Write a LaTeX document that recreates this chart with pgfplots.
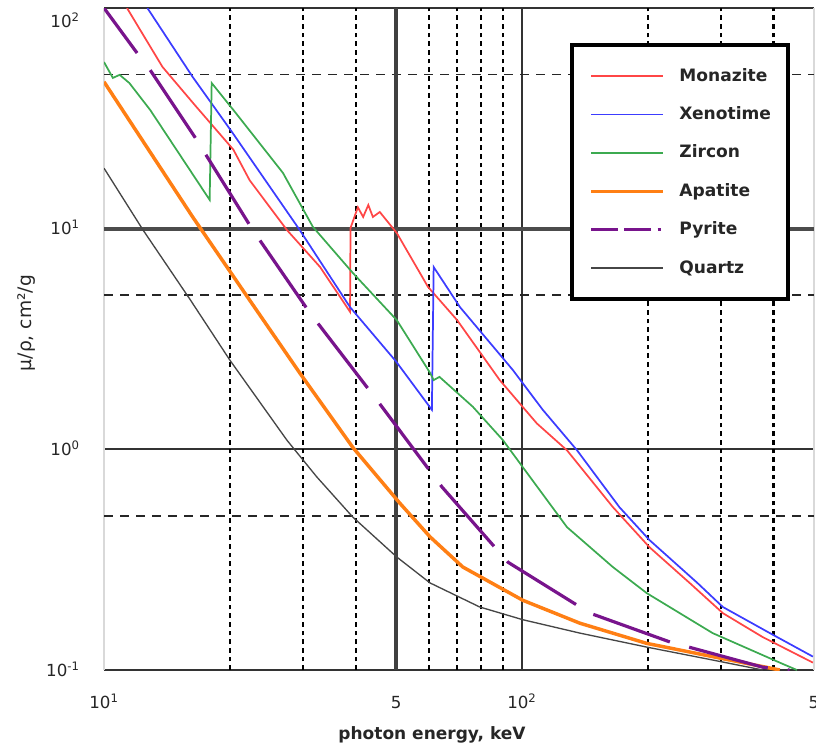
\documentclass[border=0pt]{standalone}
\usepackage{fontspec}
\setmainfont{DejaVu Sans}
\usepackage{pgfplots}
\pgfplotsset{compat=1.18}
\definecolor{monaz}{RGB}{255,70,70}
\definecolor{xeno}{RGB}{60,60,255}
\definecolor{zirc}{RGB}{60,170,80}
\definecolor{apat}{RGB}{255,127,20}
\definecolor{pyr}{RGB}{120,20,140}
\definecolor{quar}{RGB}{70,70,70}
\pgfplotsset{pyritelegend/.style={legend image code/.code={\draw[##1, dash pattern=on 20pt off 5pt on 20pt off 5pt on 2.5pt off 5pt, dash phase=0pt] (0pt,0pt) -- (54pt,0pt);}}}
\begin{document}
\begin{tikzpicture}
\begin{axis}[
  at={(0,0)}, anchor=south west,
  scale only axis, width=532.5pt, height=496.5pt,
  xmode=log, ymode=log,
  xmin=10, xmax=500, ymin=0.1, ymax=100,
  xtick={10,50,100,500},
  xticklabels={10\textsuperscript{1},5,10\textsuperscript{2},5},
  ytick={0.1,1,10,100},
  yticklabels={10\textsuperscript{-1},10\textsuperscript{0},10\textsuperscript{1},\raisebox{-10pt}{10\textsuperscript{2}}},
  xminorticks=false, yminorticks=false,
  major tick length=0pt,
  tick label style={font=\fontsize{12.5}{14}\selectfont, text=black!85, inner sep=0pt},
  xticklabel style={anchor=base, yshift=-29pt},
  yticklabel style={anchor=base east, xshift=-18pt, yshift=-4.5pt},
  grid=major,
  major grid style={black!80, line width=1.5pt},
  extra x ticks={20,30,40,60,70,80,90,200,300,400},
  extra x tick labels={},
  extra x tick style={grid=major, major grid style={black, line width=1.6pt, dash pattern=on 3.5pt off 3pt}},
  extra y ticks={0.5,5,50},
  extra y tick labels={},
  extra y tick style={grid=major, major grid style={black!85, line width=1.2pt, dash pattern=on 7pt off 5pt}},
  separate axis lines,
  x axis line style={black!80, line width=2.2pt},
  y axis line style={black!15, line width=2pt},
  xlabel={photon energy, keV},
  ylabel={μ/ρ, cm²/g},
  xlabel style={at={(axis description cs:0.462,-0.0982)}, anchor=center, font=\bfseries\fontsize{12.75}{15}\selectfont, text=black!85},
  ylabel style={at={(axis description cs:-0.1085,0.524)}, anchor=center, font=\fontsize{14}{16}\selectfont, text=black!85},
  legend style={at={(axis description cs:0.6563,0.947)}, anchor=north west, draw=black, line width=3pt, fill=white,
    inner xsep=13pt, inner ysep=17pt, row sep=16.3pt, column sep=11pt,
    font=\bfseries\fontsize{12.8}{15}\selectfont, text=black!85,
    nodes={inner sep=0pt, text height=10pt, text depth=2.5pt}},
  legend cell align=left,
  legend image code/.code={\draw[#1] (0pt,0pt) -- (54pt,0pt);},
]
\draw[black!75, line width=3.2pt] (axis cs:50,0.1) -- (axis cs:50,100);
\draw[black!70, line width=3pt] (axis cs:10,10) -- (axis cs:500,10);

\addplot[color=monaz, draw=monaz, line width=1.3pt] table {
11.35 100
13.8 54.1
16.5 36.3
20.4 22.8
22.3 16.6
27.4 9.86
32.9 6.70
38.8 4.20
38.9 10.07
40.5 12.5
41.7 11.3
42.9 12.8
44.0 11.3
45.7 11.9
50.2 9.55
59.6 5.45
70.0 3.85
88.5 2.06
108.6 1.31
128.2 0.99
165 0.548
202 0.36
252 0.248
302.6 0.181
377 0.141
497 0.108
};
\addlegendentry{Monazite}

\addplot[color=xeno, draw=xeno, line width=1.3pt] table {
12.7 100
16.3 48.7
20.3 27.2
29.4 9.86
38.8 4.41
50.0 2.5
60.9 1.51
61.5 6.70
71.1 4.41
95.1 2.29
112.2 1.51
135.5 0.99
171 0.548
202 0.388
263 0.248
302.6 0.193
392 0.147
497 0.115
};
\addlegendentry{Xenotime}

\addplot[color=zirc, draw=zirc, line width=1.3pt] table {
10 56.9
10.5 48.2
10.9 49.8
11.5 45.7
12.9 34.5
17.9 13.5
18.1 45.7
20.4 34.5
26.8 17.9
31.6 10.2
39.4 6.30
50.2 3.85
60.3 2.22
61.5 2.06
63.5 2.13
76.3 1.56
90.1 1.10
100.5 0.83
128.2 0.444
165 0.293
199 0.223
286 0.147
414 0.108
455 0.1
};
\addlegendentry{Zircon}

\addplot[color=apat, draw=apat, line width=2.6pt] table {
10 46.3
16.3 11.3
22.3 4.75
29.4 2.22
39.4 1.02
51.0 0.571
60.3 0.401
72.2 0.293
100.5 0.207
137.6 0.163
199 0.132
286 0.115
414 0.1
};
\addlegendentry{Apatite}

\addplot[color=pyr, draw=pyr, line width=2.4pt, forget plot] table {
10 100
12.0 62.5
};
\addplot[color=pyr, draw=pyr, line width=2.4pt, dash pattern=on 61pt off 15pt, dash phase=0pt, pyritelegend] table {
12.9 52.3
16.5 26.0
22.7 9.86
31.1 4.15
45.0 1.67
64.4 0.675
92.6 0.308
145.5 0.181
226 0.134
377 0.103
437 0.1
};
\addlegendentry{Pyrite}

\addplot[color=quar, draw=quar, line width=1pt] table {
10 18.8
12.4 9.86
16.1 4.75
20.0 2.54
27.4 1.10
32.3 0.75
39.4 0.493
50.2 0.325
60.3 0.248
79.3 0.193
100.5 0.169
137.6 0.147
199 0.127
286 0.111
377 0.1
};
\addlegendentry{Quartz}
\end{axis}
\pgfresetboundingbox
\path[use as bounding box] (-78pt,-59.25pt) rectangle (534pt,502.5pt);
\end{tikzpicture}
\end{document}
